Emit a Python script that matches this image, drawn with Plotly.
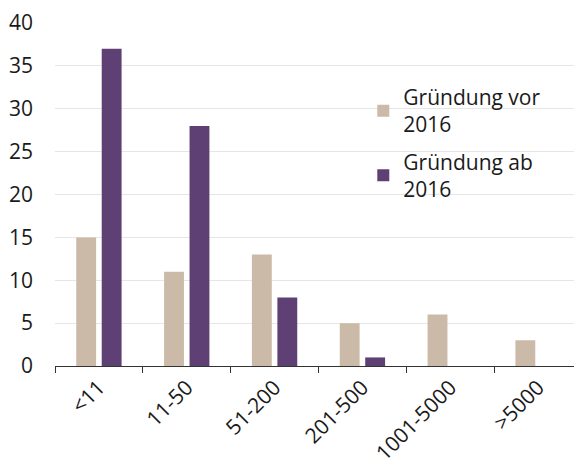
import plotly.graph_objects as go

categories = ["<11", "11-50", "51-200", "201-500", "1001-5000", ">5000"]
vor_2016 = [15, 11, 13, 5, 6, 3]
ab_2016 = [37, 28, 8, 1, 0, 0]
series_names = ["Gründung vor<br>2016", "Gründung ab<br>2016"]
y_ticks = [0, 5, 10, 15, 20, 25, 30, 35, 40]

fig = go.Figure()
fig.add_trace(go.Bar(x=categories, y=vor_2016, name=series_names[0], legendgroup="a",
                     marker=dict(color="#cbbaa8", line=dict(width=0))))
fig.add_trace(go.Bar(x=categories, y=ab_2016, name=series_names[1], legendgroup="b",
                     marker=dict(color="#5f4074", line=dict(width=0))))

fig.update_layout(
    width=574, height=462,
    margin=dict(l=47, r=0, t=15, b=104, autoexpand=False),
    paper_bgcolor="white", plot_bgcolor="white",
    font=dict(family="Open Sans", size=21, color="#1a1a1a"),
    barmode="group", bargap=0.42, bargroupgap=0.22,
    showlegend=True,
    legend=dict(x=0.585, y=0.843, xanchor="left", yanchor="top",
                traceorder="grouped", bgcolor="rgba(0,0,0,0)",
                font=dict(size=21), tracegroupgap=7),
    xaxis=dict(type="category", showline=True, linecolor="#333333", linewidth=1,
               ticks="outside", tickson="boundaries", ticklen=6, tickcolor="#333333",
               tickangle=-45, showgrid=False, automargin=False),
    yaxis=dict(range=[0, 40], tickvals=y_ticks, showgrid=True, gridcolor="#e6e6e6",
               gridwidth=1, zeroline=False, showline=False, ticklabelstandoff=21,
               automargin=False),
)

fig.write_html("out.html")
